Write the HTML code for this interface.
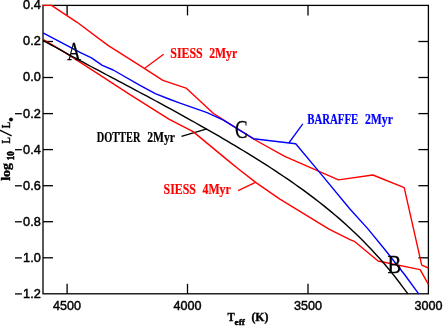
<!DOCTYPE html>
<html><head><meta charset="utf-8"><title>HR diagram</title>
<style>
html,body{margin:0;padding:0;background:#fff;}
body{width:443px;height:326px;overflow:hidden;}
svg{display:block;will-change:transform;}
text{font-family:"Liberation Serif",serif;font-weight:bold;}
.t{font-family:"Liberation Sans",sans-serif;font-weight:normal;font-size:12.7px;fill:#000;stroke:#000;stroke-width:0.45px;}
.l{font-size:13.9px;}
.a{font-size:12.2px;}
.big{font-weight:normal;font-size:25px;fill:#000;stroke:#000;stroke-width:0.3px;}
</style></head><body>
<svg width="443" height="326" viewBox="0 0 443 326">
<rect x="0" y="0" width="443" height="326" fill="#fff"/>
<line x1="144.7" y1="68.3" x2="163.6" y2="54.3" stroke="#ff0000" stroke-width="1.3"/>
<line x1="181.5" y1="136.3" x2="206.9" y2="128.8" stroke="#000" stroke-width="1.3"/>
<line x1="302.8" y1="123.8" x2="288.8" y2="143" stroke="#0000ff" stroke-width="1.3"/>
<line x1="238.1" y1="190.6" x2="255.0" y2="182.6" stroke="#ff0000" stroke-width="1.3"/>
<rect x="43.0" y="5.4" width="385.4" height="288.4" fill="none" stroke="#000" stroke-width="1.3"/>
<line x1="43.0" y1="41.5" x2="53.0" y2="41.5" stroke="#000" stroke-width="1.3"/>
<line x1="428.4" y1="41.5" x2="418.4" y2="41.5" stroke="#000" stroke-width="1.3"/>
<line x1="43.0" y1="77.5" x2="53.0" y2="77.5" stroke="#000" stroke-width="1.3"/>
<line x1="428.4" y1="77.5" x2="418.4" y2="77.5" stroke="#000" stroke-width="1.3"/>
<line x1="43.0" y1="113.6" x2="53.0" y2="113.6" stroke="#000" stroke-width="1.3"/>
<line x1="428.4" y1="113.6" x2="418.4" y2="113.6" stroke="#000" stroke-width="1.3"/>
<line x1="43.0" y1="149.6" x2="53.0" y2="149.6" stroke="#000" stroke-width="1.3"/>
<line x1="428.4" y1="149.6" x2="418.4" y2="149.6" stroke="#000" stroke-width="1.3"/>
<line x1="43.0" y1="185.7" x2="53.0" y2="185.7" stroke="#000" stroke-width="1.3"/>
<line x1="428.4" y1="185.7" x2="418.4" y2="185.7" stroke="#000" stroke-width="1.3"/>
<line x1="43.0" y1="221.7" x2="53.0" y2="221.7" stroke="#000" stroke-width="1.3"/>
<line x1="428.4" y1="221.7" x2="418.4" y2="221.7" stroke="#000" stroke-width="1.3"/>
<line x1="43.0" y1="257.8" x2="53.0" y2="257.8" stroke="#000" stroke-width="1.3"/>
<line x1="428.4" y1="257.8" x2="418.4" y2="257.8" stroke="#000" stroke-width="1.3"/>
<line x1="67.1" y1="5.4" x2="67.1" y2="15.4" stroke="#000" stroke-width="1.3"/>
<line x1="67.1" y1="293.8" x2="67.1" y2="283.8" stroke="#000" stroke-width="1.3"/>
<line x1="187.5" y1="5.4" x2="187.5" y2="15.4" stroke="#000" stroke-width="1.3"/>
<line x1="187.5" y1="293.8" x2="187.5" y2="283.8" stroke="#000" stroke-width="1.3"/>
<line x1="308.0" y1="5.4" x2="308.0" y2="15.4" stroke="#000" stroke-width="1.3"/>
<line x1="308.0" y1="293.8" x2="308.0" y2="283.8" stroke="#000" stroke-width="1.3"/>
<polyline fill="none" stroke="#ff0000" stroke-width="1.4" stroke-linejoin="round" points="42.3,5.4 51.5,5.4 77.1,22.3 108.0,45.4 140.0,65.7 162.9,80.4 186.0,88.1 213.5,113.5 223.4,119.8 253.5,139.0 284.7,156.4 338.5,179.9 372.9,175.0 404.2,187.7 421.7,265.1 428.4,268.0"/>
<polyline fill="none" stroke="#ff0000" stroke-width="1.4" stroke-linejoin="round" points="43.0,39.3 64.0,51.8 85.0,65.4 130.0,94.6 169.3,119.4 193.1,131.6 230.0,162.1 238.5,169.0 256.0,182.6 279.5,198.8 329.4,229.4 350.0,239.6 354.3,241.3 378.1,261.0 420.1,269.6 428.4,284.4"/>
<polyline fill="none" stroke="#000" stroke-width="1.4" stroke-linejoin="round" points="43.0,40.3 47.0,42.6 51.0,44.8 55.0,47.0 59.0,49.2 63.0,51.4 67.0,53.6 71.0,55.8 75.0,57.9 79.0,60.1 83.0,62.2 87.0,64.4 91.0,66.5 95.0,68.6 99.0,70.7 103.0,72.8 107.0,75.0 111.0,77.1 115.0,79.2 119.0,81.3 123.0,83.4 127.0,85.6 131.0,87.7 135.0,89.8 139.0,92.0 143.0,94.1 147.0,96.2 151.0,98.4 155.0,100.5 159.0,102.7 163.0,104.9 167.0,107.1 171.0,109.2 175.0,111.4 179.0,113.6 183.0,115.9 187.0,118.1 191.0,120.3 195.0,122.5 199.0,124.8 203.0,127.1 207.0,129.3 211.0,131.6 215.0,133.9 219.0,136.2 223.0,138.6 227.0,140.9 231.0,143.3 235.0,145.7 239.0,148.1 243.0,150.5 247.0,152.9 251.0,155.4 255.0,157.8 259.0,160.3 263.0,162.9 267.0,165.4 271.0,168.0 275.0,170.6 279.0,173.3 283.0,176.0 287.0,178.7 291.0,181.4 295.0,184.2 299.0,187.1 303.0,189.9 307.0,192.9 311.0,195.9 315.0,198.9 319.0,202.0 323.0,205.1 327.0,208.4 331.0,211.6 335.0,215.0 339.0,218.4 343.0,221.9 347.0,225.5 351.0,229.2 355.0,233.0 359.0,236.8 363.0,240.8 367.0,244.9 371.0,249.1 375.0,253.4 379.0,257.8 383.0,262.3 387.0,267.0 391.0,271.9 395.0,276.8 399.0,282.0 403.0,287.3 407.0,292.7 407.8,293.8"/>
<polyline fill="none" stroke="#0000ff" stroke-width="1.4" stroke-linejoin="round" points="43.0,32.8 80.0,52.4 91.5,57.9 102.3,65.3 113.2,70.0 140.0,85.3 155.3,93.6 168.9,99.0 180.0,103.2 207.1,112.6 223.4,120.2 253.5,138.7 295.7,143.8 321.5,174.6 349.9,209.0 367.5,228.4 384.4,249.0 404.9,275.0 418.7,293.8"/>
<text class="t" x="23.1" y="9.3" textLength="17.7" lengthAdjust="spacingAndGlyphs">0.4</text>
<text class="t" x="23.1" y="45.4" textLength="17.7" lengthAdjust="spacingAndGlyphs">0.2</text>
<text class="t" x="23.1" y="81.4" textLength="17.7" lengthAdjust="spacingAndGlyphs">0.0</text>
<text class="t" x="23.1" y="117.5" textLength="17.7" lengthAdjust="spacingAndGlyphs">0.2</text>
<line x1="15.0" y1="113.7" x2="21.9" y2="113.7" stroke="#000" stroke-width="1.3"/>
<text class="t" x="23.1" y="153.5" textLength="17.7" lengthAdjust="spacingAndGlyphs">0.4</text>
<line x1="15.0" y1="149.7" x2="21.9" y2="149.7" stroke="#000" stroke-width="1.3"/>
<text class="t" x="23.1" y="189.6" textLength="17.7" lengthAdjust="spacingAndGlyphs">0.6</text>
<line x1="15.0" y1="185.8" x2="21.9" y2="185.8" stroke="#000" stroke-width="1.3"/>
<text class="t" x="23.1" y="225.6" textLength="17.7" lengthAdjust="spacingAndGlyphs">0.8</text>
<line x1="15.0" y1="221.8" x2="21.9" y2="221.8" stroke="#000" stroke-width="1.3"/>
<text class="t" x="23.1" y="261.6" textLength="17.7" lengthAdjust="spacingAndGlyphs">1.0</text>
<line x1="15.0" y1="257.9" x2="21.9" y2="257.9" stroke="#000" stroke-width="1.3"/>
<text class="t" x="23.1" y="297.7" textLength="17.7" lengthAdjust="spacingAndGlyphs">1.2</text>
<line x1="15.0" y1="293.9" x2="21.9" y2="293.9" stroke="#000" stroke-width="1.3"/>
<text class="t" x="53.1" y="310.3" textLength="28.0" lengthAdjust="spacingAndGlyphs">4500</text>
<text class="t" x="173.5" y="310.3" textLength="28.0" lengthAdjust="spacingAndGlyphs">4000</text>
<text class="t" x="294.0" y="310.3" textLength="28.0" lengthAdjust="spacingAndGlyphs">3500</text>
<text class="t" x="414.4" y="310.3" textLength="28.0" lengthAdjust="spacingAndGlyphs">3000</text>
<g stroke="#000" stroke-width="0.4">
<text class="a" style="font-size:12.6px" x="227.5" y="320.9" textLength="7.2" lengthAdjust="spacingAndGlyphs">T</text>
<text x="234.6" y="325.0" font-size="8.8" textLength="10.3" lengthAdjust="spacingAndGlyphs">eff</text>
<text class="a" style="font-size:12.6px" x="251.4" y="321.1" textLength="17" lengthAdjust="spacingAndGlyphs">(K)</text>
</g>
<g transform="translate(10.1,180.8) rotate(-90)" stroke="#000" stroke-width="0.4">
<text class="a" style="font-size:13px" x="0" y="0" textLength="17.8" lengthAdjust="spacingAndGlyphs">log</text>
<text x="20.6" y="3.6" font-size="9.8" stroke-width="0.6" textLength="8.9" lengthAdjust="spacingAndGlyphs">10</text>
<text class="a" x="37.2" y="0" textLength="6.2" lengthAdjust="spacingAndGlyphs">L</text>
<line x1="44.9" y1="1.6" x2="50.6" y2="-10.4" stroke="#000" stroke-width="1.3"/>
<text class="a" x="52.5" y="0" textLength="6.2" lengthAdjust="spacingAndGlyphs">L</text>
<circle cx="61.3" cy="0.9" r="1.8" fill="#000"/>
</g>
<text class="l" fill="#ff0000" stroke="#ff0000" stroke-width="0.2" x="170.3" y="57.7" textLength="32.4" lengthAdjust="spacingAndGlyphs">SIESS</text>
<text class="l" fill="#ff0000" stroke="#ff0000" stroke-width="0.2" x="209.2" y="57.7" textLength="28.0" lengthAdjust="spacingAndGlyphs">2Myr</text>
<text class="l" fill="#000" stroke="#000" stroke-width="0.2" x="96.7" y="141.9" textLength="43.7" lengthAdjust="spacingAndGlyphs">DOTTER</text>
<text class="l" fill="#000" stroke="#000" stroke-width="0.2" x="147.2" y="141.9" textLength="27.8" lengthAdjust="spacingAndGlyphs">2Myr</text>
<text class="l" fill="#0000ff" stroke="#0000ff" stroke-width="0.2" x="307.2" y="123.9" textLength="51.0" lengthAdjust="spacingAndGlyphs">BARAFFE</text>
<text class="l" fill="#0000ff" stroke="#0000ff" stroke-width="0.2" x="364.9" y="123.9" textLength="28.0" lengthAdjust="spacingAndGlyphs">2Myr</text>
<text class="l" fill="#ff0000" stroke="#ff0000" stroke-width="0.2" x="163.6" y="193.9" textLength="32.2" lengthAdjust="spacingAndGlyphs">SIESS</text>
<text class="l" fill="#ff0000" stroke="#ff0000" stroke-width="0.2" x="202.5" y="193.9" textLength="28.2" lengthAdjust="spacingAndGlyphs">4Myr</text>
<text class="big" x="67.3" y="59.8" textLength="13.6" lengthAdjust="spacingAndGlyphs">A</text>
<text class="big" x="387.6" y="272.9" textLength="13.8" lengthAdjust="spacingAndGlyphs">B</text>
<text class="big" x="235.0" y="138.0" textLength="12.6" lengthAdjust="spacingAndGlyphs">C</text>
</svg></body></html>
